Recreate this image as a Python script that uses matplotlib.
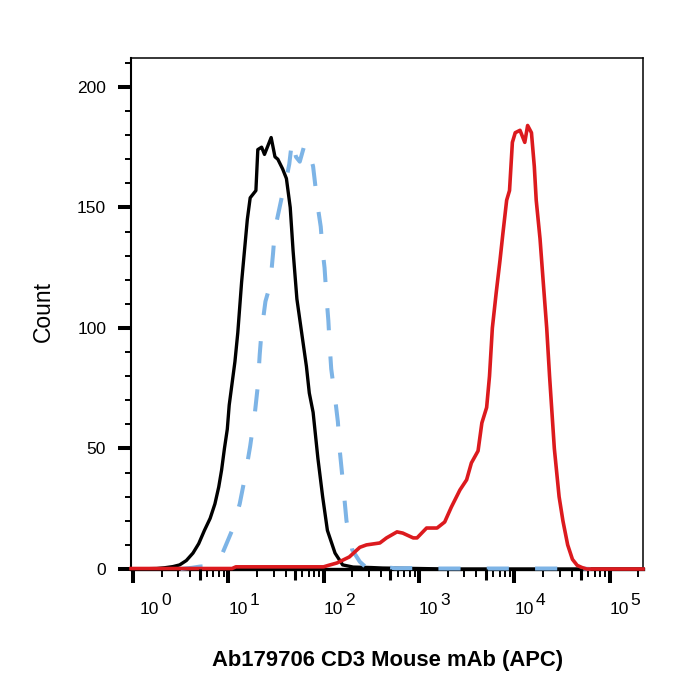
import numpy as np
import matplotlib
matplotlib.use("Agg")
import matplotlib.pyplot as plt
import matplotlib.transforms as mtransforms
from matplotlib.ticker import FixedLocator, MultipleLocator, NullFormatter

plt.rcParams['font.family'] = ['Liberation Sans', 'DejaVu Sans']

# positions on the x axis are log10 of the APC intensity
black_log = [0.00, 0.25, 0.33, 0.42, 0.49, 0.56, 0.63, 0.69, 0.75, 0.81, 0.86, 0.90, 0.93,
             0.96, 0.99, 1.01, 1.04, 1.07, 1.10, 1.14, 1.17, 1.20, 1.23, 1.27, 1.29, 1.31,
             1.35, 1.38, 1.45, 1.49, 1.52, 1.57, 1.61, 1.65, 1.68, 1.72, 1.77, 1.82, 1.85,
             1.89, 1.94, 1.99, 2.04, 2.12, 2.20, 2.31, 2.50, 2.62, 2.80, 3.00, 3.30, 5.35]
black_count = [0, 0.2, 0.5, 1.0, 1.7, 3.5, 6.6, 10.5, 16, 21, 27, 34, 41,
               50, 58, 68, 77, 86, 98, 119, 132, 145, 154, 156, 157, 174,
               175, 172, 179, 171, 170, 166, 162, 150, 132, 112, 98, 84, 73,
               65, 46, 30, 16, 6.6, 1.7, 0.8, 0.6, 0.4, 0.3, 0.2, 0, 0]

blue_log = [0.50, 0.62, 0.70, 0.78, 0.85, 0.94, 1.04, 1.12, 1.17, 1.23, 1.28, 1.31, 1.33,
            1.35, 1.39, 1.44, 1.47, 1.49, 1.56, 1.61, 1.64, 1.67, 1.71, 1.75, 1.80, 1.83,
            1.89, 1.94, 1.97, 1.99, 2.01, 2.03, 2.05, 2.065, 2.08, 2.12, 2.15, 2.17, 2.20,
            2.24, 2.30, 2.38, 2.45, 2.55, 2.62, 2.75, 3.00, 3.10, 4.70, 4.80]
blue_count = [0, 0.5, 1.0, 1.2, 2.5, 6.6, 16, 27, 37, 51, 65, 76, 89,
              99, 111, 118, 131, 141, 154, 162, 168, 178, 171, 169, 176, 176,
              167, 150, 142, 132, 125, 113, 103, 92, 83, 71, 61, 49, 37,
              20, 8, 3, 0.5, 0.5, 0.9, 0.3, 0.4, 0.2, 0.2, 0]

red_log = [-0.02, 1.04, 1.08, 2.00, 2.05, 2.14, 2.27, 2.38, 2.45, 2.59, 2.66, 2.77, 2.83,
           2.94, 2.98, 3.08, 3.19, 3.27, 3.34, 3.43, 3.50, 3.55, 3.62, 3.66, 3.71, 3.74,
           3.77, 3.81, 3.85, 3.88, 3.92, 3.95, 3.98, 4.01, 4.06, 4.11, 4.14, 4.18, 4.21,
           4.23, 4.27, 4.30, 4.34, 4.37, 4.42, 4.47, 4.51, 4.56, 4.61, 4.66, 4.71, 4.76, 5.35]
red_count = [0.2, 0.2, 0.9, 0.9, 1.5, 2.5, 5, 9, 10, 10.8, 12.9, 15.4, 14.9,
             12.9, 12.9, 17, 17, 19.5, 25.7, 32.8, 37, 44, 49, 60.6, 67, 80,
             100, 114.5, 128, 139, 153, 157, 177, 181, 182, 177, 184, 181, 167,
             153, 137, 121, 100, 80, 50, 30, 20, 10, 4, 1.5, 0.6, 0, 0]

decades = [0, 1, 2, 3, 4, 5]
y_major = [0, 50, 100, 150, 200]
x_title = "Ab179706 CD3 Mouse mAb (APC)"
y_title = "Count"

fig = plt.figure(figsize=(7, 7), dpi=100)
ax = fig.add_axes([131 / 700, 1 - 569 / 700, 512 / 700, 511 / 700])

ax.plot(10 ** np.array(black_log), black_count, color='black', lw=2.4, zorder=3, clip_on=False)
ax.plot(10 ** np.array(blue_log), blue_count, color='#7db4e6', lw=2.9,
        ls=(0, (5.5, 6.5)), zorder=4, clip_on=False)
ax.plot(10 ** np.array(red_log), red_count, color='#dc1a1e', lw=2.6, zorder=5, clip_on=False)

ax.set_xscale('log')
ax.set_xlim(10 ** -0.02, 10 ** 5.35)
ax.set_ylim(0, 212)

# ticks: decades thick, 2..9 thin; the 5s get a medium tick from a hidden twin axis
minor = [m * 10.0 ** d for d in decades for m in (2, 3, 4, 6, 7, 8, 9)]
ax.xaxis.set_major_locator(FixedLocator([10.0 ** d for d in decades]))
ax.xaxis.set_minor_locator(FixedLocator(minor))
ax.xaxis.set_major_formatter(NullFormatter())
ax.xaxis.set_minor_formatter(NullFormatter())
ax.tick_params(axis='x', which='major', direction='out', length=10, width=2.9)
ax.tick_params(axis='x', which='minor', direction='out', length=5.5, width=1.4)

ax5 = ax.twiny()
ax5.set_xscale('log')
ax5.set_xlim(ax.get_xlim())
ax5.xaxis.set_ticks_position('bottom')
ax5.xaxis.set_major_locator(FixedLocator([5 * 10.0 ** d for d in decades]))
ax5.xaxis.set_minor_locator(FixedLocator([]))
ax5.xaxis.set_major_formatter(NullFormatter())
ax5.tick_params(axis='x', which='major', direction='out', length=8, width=2.2)
for s in ax5.spines.values():
    s.set_visible(False)

ax.yaxis.set_major_locator(FixedLocator(y_major))
ax.yaxis.set_minor_locator(MultipleLocator(10))
ax.tick_params(axis='y', which='major', direction='out', length=9.4, width=2.9,
               labelsize=12.5, pad=8.5)
ax.tick_params(axis='y', which='minor', direction='out', length=4.3, width=1.4)

ax.spines['bottom'].set_linewidth(2.4)
ax.spines['left'].set_linewidth(1.5)
ax.spines['top'].set_linewidth(1.1)
ax.spines['right'].set_linewidth(1.1)

# decade labels written as 10 + raised exponent, sitting just right of each tick
base_tr = mtransforms.blended_transform_factory(ax.transData, ax.transAxes)
for d in decades:
    shift = 5 if d == 0 else 0
    ax.text(10.0 ** d, 0, '10', ha='left', va='baseline', fontsize=12.5,
            transform=mtransforms.offset_copy(base_tr, fig=fig, x=shift, y=-32.4, units='points'))
    ax.text(10.0 ** d, 0, str(d), ha='left', va='baseline', fontsize=12.5,
            transform=mtransforms.offset_copy(base_tr, fig=fig, x=shift + 15.2, y=-25.9, units='points'))

fig.text(387.5 / 700, 1 - 666 / 700, x_title, ha='center', va='baseline',
         fontsize=15.8, fontweight='bold')
fig.text(43.5 / 700, 1 - 312 / 700, y_title, ha='center', va='center',
         rotation=90, fontsize=16.5)

fig.savefig('out.png', dpi=100, facecolor='white')
